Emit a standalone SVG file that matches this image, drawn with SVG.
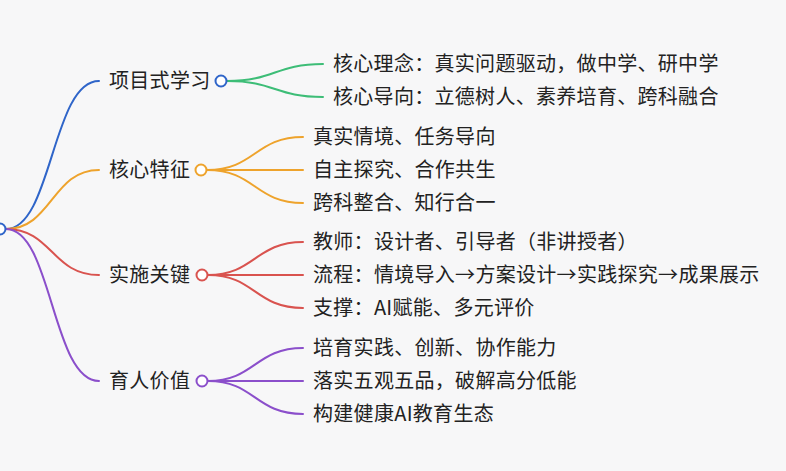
<svg xmlns="http://www.w3.org/2000/svg" width="786" height="471" viewBox="0 0 786 471">
<style>
text{font-family:"Noto Sans CJK SC","Noto Sans",sans-serif;font-size:20px;fill:#222222;letter-spacing:0.3px;}
.l{fill:none;stroke-width:2;stroke-linecap:round;}
.c{fill:#ffffff;stroke-width:2;}
.blue{stroke:#2f65c9;}
.green{stroke:#3dbd77;}
.orange{stroke:#eea32c;}
.red{stroke:#d9534f;}
.purple{stroke:#8b4fcb;}
</style>
<rect width="786" height="471" fill="#f7f7f8"/>
<g id="connectors">
<path class="l blue" d="M6,229 C52,229 52,81 99,81"/>
<path class="l orange" d="M6,229 C52,229 52,170 99,170"/>
<path class="l red" d="M6,229 C52,229 52,275 99,275"/>
<path class="l purple" d="M6,229 C52,229 52,381 99,381"/>
<path class="l green" d="M227,81 C275,81 275,64 323,64"/>
<path class="l green" d="M227,81 C275,81 275,97 323,97"/>
<path class="l orange" d="M207,170 C255,170 255,137 303,137"/>
<path class="l orange" d="M207,170 C255,170 255,170 303,170"/>
<path class="l orange" d="M207,170 C255,170 255,203 303,203"/>
<path class="l red" d="M208,275 C255,275 255,242 303,242"/>
<path class="l red" d="M208,275 C255,275 255,275 303,275"/>
<path class="l red" d="M208,275 C255,275 255,308 303,308"/>
<path class="l purple" d="M208,381 C255,381 255,348 303,348"/>
<path class="l purple" d="M208,381 C255,381 255,381 303,381"/>
<path class="l purple" d="M208,381 C255,381 255,414 303,414"/>
</g>
<g id="root"><circle class="c blue" cx="0" cy="229" r="5.5"/></g>
<g id="n1"><text x="109" y="88">项目式学习</text><circle class="c blue" cx="221" cy="81" r="5.5"/></g>
<g id="n1a"><text x="333" y="71">核心理念：真实问题驱动，做中学、研中学</text></g>
<g id="n1b"><text x="333" y="104">核心导向：立德树人、素养培育、跨科融合</text></g>
<g id="n2"><text x="109" y="177">核心特征</text><circle class="c orange" cx="201" cy="170" r="5.5"/></g>
<g id="n2a"><text x="313" y="144">真实情境、任务导向</text></g>
<g id="n2b"><text x="313" y="177">自主探究、合作共生</text></g>
<g id="n2c"><text x="313" y="210">跨科整合、知行合一</text></g>
<g id="n3"><text x="109" y="282">实施关键</text><circle class="c red" cx="202" cy="275" r="5.5"/></g>
<g id="n3a"><text x="313" y="249">教师：设计者、引导者（非讲授者）</text></g>
<g id="n3b"><text x="313" y="282">流程：情境导入→方案设计→实践探究→成果展示</text></g>
<g id="n3c"><text x="313" y="315">支撑：AI赋能、多元评价</text></g>
<g id="n4"><text x="109" y="388">育人价值</text><circle class="c purple" cx="202" cy="381" r="5.5"/></g>
<g id="n4a"><text x="313" y="355">培育实践、创新、协作能力</text></g>
<g id="n4b"><text x="313" y="388">落实五观五品，破解高分低能</text></g>
<g id="n4c"><text x="313" y="421">构建健康AI教育生态</text></g>
</svg>
